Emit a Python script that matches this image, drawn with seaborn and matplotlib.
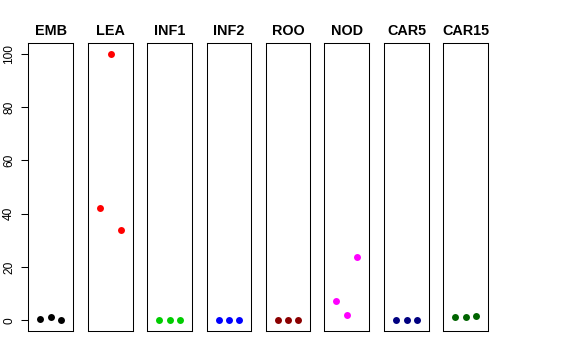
import matplotlib
matplotlib.use("Agg")
import matplotlib.pyplot as plt
import seaborn as sns
import pandas as pd

sns.set_style("white")
plt.rcParams['font.family'] = ['Liberation Sans', 'DejaVu Sans']
plt.rcParams['text.color'] = 'black'
plt.rcParams['ytick.color'] = 'black'
plt.rcParams['axes.labelcolor'] = 'black'

# ---- data ----
samples = ["EMB", "LEA", "INF1", "INF2", "ROO", "NOD", "CAR5", "CAR15"]
replicates = [1, 2, 3]
emb = [0.4, 1.2, 0.2]
lea = [42.2, 100.0, 33.8]
inf1 = [0.0, 0.0, 0.0]
inf2 = [0.0, 0.0, 0.0]
roo = [0.0, 0.0, 0.0]
nod = [7.4, 2.1, 23.9]
car5 = [0.2, 0.0, 0.0]
car15 = [1.2, 1.1, 1.5]
colors = ["#000000", "#FF0000", "#00CD00", "#0000FF",
          "#8B0000", "#FF00FF", "#000080", "#006400"]
yticks = [0, 20, 40, 60, 80, 100]

values = [emb, lea, inf1, inf2, roo, nod, car5, car15]
rows = []
for s, vals in zip(samples, values):
    for r, v in zip(replicates, vals):
        rows.append({"sample": s, "rep": r, "value": v})
df = pd.DataFrame(rows)

W, H = 576, 360
fig = plt.figure(figsize=(W / 100, H / 100), dpi=100)

lefts = [28.3, 88.3, 147.3, 206.7, 265.7, 324.3, 384.3, 443.3]
pw = 44.7
top_px, bot_px = 43, 331

for i, (s, col) in enumerate(zip(samples, colors)):
    ax = fig.add_axes([lefts[i] / W, 1 - bot_px / H, pw / W, (bot_px - top_px) / H])
    sub = df[df["sample"] == s]
    sns.scatterplot(data=sub, x="rep", y="value", color=col, s=25,
                    linewidth=0, ax=ax, legend=False, zorder=3)
    ax.set_xlim(-0.16, 4.16)
    ax.set_ylim(-4, 104)
    ax.set_xlabel("")
    ax.set_ylabel("")
    ax.set_xticks([])
    ax.set_title(s, fontsize=10.4, fontweight="bold", pad=5.8, color="black")
    for sp in ax.spines.values():
        sp.set_color("black")
        sp.set_linewidth(0.75)
        sp.set_visible(True)
    if i == 0:
        ax.set_yticks(yticks)
        ax.set_yticklabels([str(t) for t in yticks])
        ax.tick_params(axis="y", direction="out", length=5, width=0.75,
                       pad=4.5, labelsize=8.6, left=True, colors="black",
                       labelcolor="black")
        plt.setp(ax.get_yticklabels(), rotation=90, va="center")
    else:
        ax.set_yticks([])

fig.savefig("out.png", dpi=100)
